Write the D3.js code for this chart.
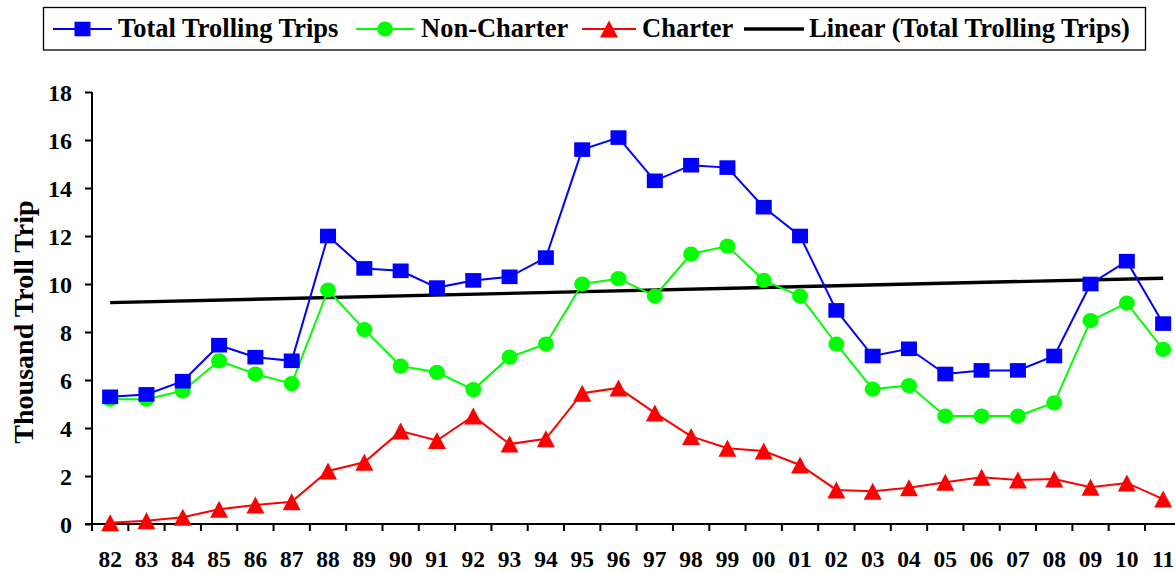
<!DOCTYPE html>
<html>
<head>
<meta charset="utf-8">
<script src="https://cdn.jsdelivr.net/npm/d3@7"></script>
<style>
  html, body { margin: 0; padding: 0; background: #fff; }
  svg { display: block; }
  text { font-family: "Liberation Serif", "Times New Roman", serif; font-weight: bold; fill: #000; }
</style>
</head>
<body>
<svg id="chart" width="1175" height="573"></svg>
<script>
// ---- data ----
const years = ["82","83","84","85","86","87","88","89","90","91","92","93","94","95","96",
               "97","98","99","00","01","02","03","04","05","06","07","08","09","10","11"];
const totalTrips = [5.3, 5.4, 5.95, 7.45, 6.95, 6.8, 12.0, 10.65, 10.55, 9.85, 10.15, 10.3, 11.1, 15.6, 16.1,
                    14.3, 14.95, 14.85, 13.2, 12.0, 8.9, 7.0, 7.3, 6.25, 6.4, 6.4, 7.0, 10.0, 10.95, 8.35];
const nonCharter = [5.2, 5.2, 5.55, 6.8, 6.25, 5.85, 9.75, 8.1, 6.58, 6.32, 5.6, 6.95, 7.5, 10.0, 10.22,
                    9.5, 11.25, 11.58, 10.15, 9.5, 7.5, 5.62, 5.77, 4.5, 4.5, 4.5, 5.05, 8.47, 9.2, 7.28];
const charter = [0.05, 0.14, 0.28, 0.61, 0.79, 0.93, 2.21, 2.57, 3.87, 3.48, 4.5, 3.33, 3.55, 5.45, 5.67,
                 4.63, 3.65, 3.16, 3.04, 2.46, 1.42, 1.36, 1.51, 1.74, 1.95, 1.83, 1.87, 1.53, 1.71, 1.04];
const yTicks = [0, 2, 4, 6, 8, 10, 12, 14, 16, 18];
const legendLabels = ["Total Trolling Trips", "Non-Charter", "Charter", "Linear (Total Trolling Trips)"];
const yTitle = "Thousand Troll Trip";

// ---- layout ----
const svg = d3.select("#chart");
const x = d3.scaleBand().domain(years).range([92, 92 + 30 * 36.31]).padding(0);
const y = d3.scaleLinear().domain([0, 18]).range([524, 92]);
const cx = d => x(d) + x.bandwidth() / 2;

// ---- y axis ----
const yAxis = svg.append("g").attr("transform", "translate(92,0)")
  .call(d3.axisLeft(y).tickValues(yTicks).tickSize(7).tickPadding(13).tickFormat(d3.format("d")));
yAxis.select(".domain").attr("stroke", "#000").attr("stroke-width", 2).attr("d", "M0,92V524");
yAxis.selectAll(".tick line").attr("stroke", "#000").attr("stroke-width", 2);
yAxis.selectAll(".tick text").attr("font-size", 24).attr("font-family", "Liberation Serif")
  .attr("font-weight", "bold").attr("dy", "0.34em");

// ---- x axis ----
const xAxis = svg.append("g").attr("transform", "translate(0,524)")
  .call(d3.axisBottom(x).tickSize(0).tickPadding(0));
xAxis.select(".domain").attr("stroke", "#000").attr("stroke-width", 2).attr("d", "M85,0H1175");
xAxis.selectAll(".tick text").attr("font-size", 23.5).attr("font-family", "Liberation Serif")
  .attr("font-weight", "bold").attr("y", 42.5).attr("dy", 0);
// tick marks on category boundaries
svg.append("g").selectAll("line").data(years).join("line")
  .attr("x1", d => x(d)).attr("x2", d => x(d))
  .attr("y1", 524).attr("y2", 531)
  .attr("stroke", "#000").attr("stroke-width", 2);

// ---- y title ----
svg.append("text")
  .attr("transform", "translate(33,322) rotate(-90)")
  .attr("text-anchor", "middle")
  .attr("font-size", 28)
  .text(yTitle);

// ---- trend line (least squares fit of total trips) ----
const n = totalTrips.length;
const idx = d3.range(n);
const mi = d3.mean(idx), mv = d3.mean(totalTrips);
const slope = d3.sum(idx, i => (i - mi) * (totalTrips[i] - mv)) / d3.sum(idx, i => (i - mi) ** 2);
const icpt = mv - slope * mi;
svg.append("line")
  .attr("x1", cx(years[0])).attr("y1", y(icpt))
  .attr("x2", cx(years[n - 1])).attr("y2", y(icpt + slope * (n - 1)))
  .attr("stroke", "#000").attr("stroke-width", 3.4);

// ---- markers ----
function marker(g, kind, color) {
  if (kind === "square") {
    g.append("rect").attr("x", -8).attr("y", -7.3).attr("width", 16).attr("height", 14.6).attr("fill", color);
  } else if (kind === "circle") {
    g.append("ellipse").attr("rx", 8).attr("ry", 7.6).attr("fill", color);
  } else {
    g.append("path").attr("d", "M0,-8.5L9,8.5L-9,8.5Z").attr("fill", color);
  }
}

const series = [
  { vals: charter, color: "#FF0000", kind: "triangle" },
  { vals: nonCharter, color: "#00FF00", kind: "circle" },
  { vals: totalTrips, color: "#0000FF", kind: "square" }
];
const line = d3.line().x((v, i) => cx(years[i])).y(v => y(v));
series.forEach(s => {
  svg.append("path").attr("d", line(s.vals)).attr("fill", "none")
    .attr("stroke", s.color).attr("stroke-width", 2);
  svg.append("g").selectAll("g").data(s.vals).join("g")
    .attr("transform", (v, i) => `translate(${cx(years[i])},${y(v)})`)
    .each(function () { marker(d3.select(this), s.kind, s.color); });
});

// ---- legend ----
const leg = svg.append("g");
leg.append("rect").attr("x", 43.5).attr("y", 7.5).attr("width", 1102).attr("height", 42.5)
  .attr("fill", "#fff").attr("stroke", "#000").attr("stroke-width", 1.3);
const legItems = [
  { x0: 53, x1: 112, tx: 118, color: "#0000FF", kind: "square", w: 2 },
  { x0: 356, x1: 414, tx: 421, color: "#00FF00", kind: "circle", w: 2 },
  { x0: 582, x1: 636, tx: 642, color: "#FF0000", kind: "triangle", w: 2 },
  { x0: 744, x1: 804, tx: 809, color: "#000", kind: null, w: 3.4 }
];
legItems.forEach((it, k) => {
  leg.append("line").attr("x1", it.x0).attr("x2", it.x1).attr("y1", 29).attr("y2", 29)
    .attr("stroke", it.color).attr("stroke-width", it.w);
  if (it.kind) {
    const g = leg.append("g").attr("transform", `translate(${(it.x0 + it.x1) / 2},29)`);
    marker(g, it.kind, it.color);
  }
  leg.append("text").attr("x", it.tx).attr("y", 37).attr("font-size", 26.5).text(legendLabels[k]);
});
</script>
</body>
</html>
